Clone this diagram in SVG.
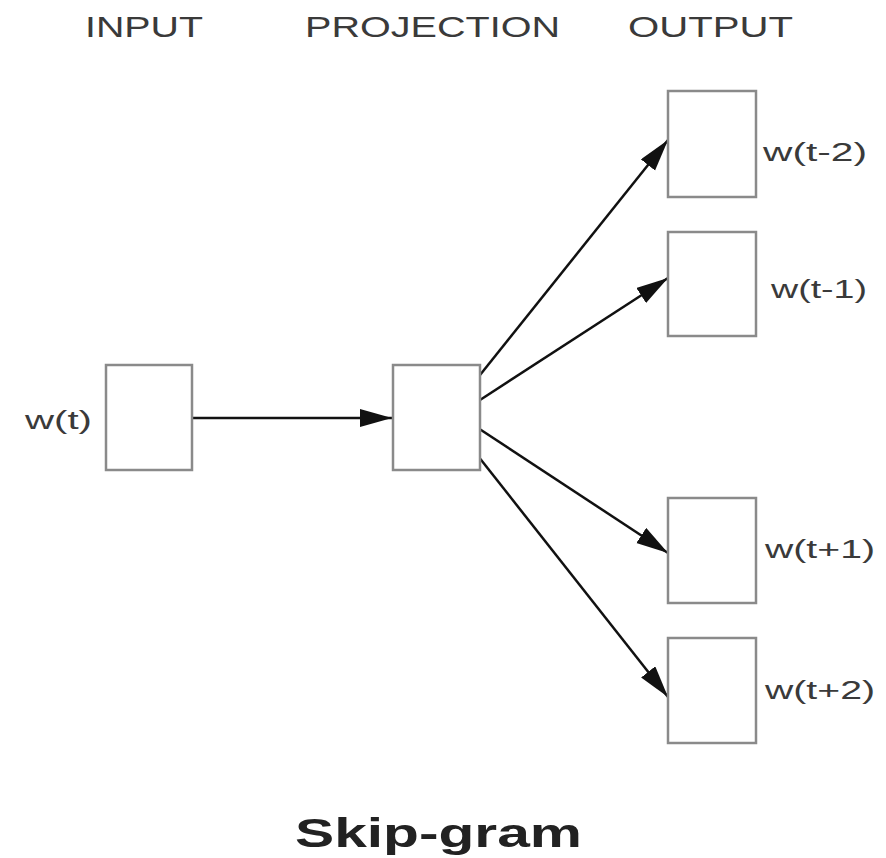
<svg xmlns="http://www.w3.org/2000/svg" width="886" height="858" viewBox="0 0 886 858">
  <style>
    .box { fill: #ffffff; stroke: #8a8a8a; stroke-width: 2.5; }
    .head { font-family: "Liberation Sans", Arial, sans-serif; font-size: 29px; fill: #3a3a3a; }
    .lbl { font-family: "Liberation Sans", Arial, sans-serif; font-size: 26px; fill: #3a3a3a; }
    .title { font-family: "Liberation Sans", Arial, sans-serif; font-size: 41px; font-weight: bold; fill: #222222; }
    .edge { stroke: #111111; stroke-width: 2.5; fill: none; marker-end: url(#arrow); }
  </style>
  <defs>
    <marker id="arrow" markerUnits="userSpaceOnUse" markerWidth="34" markerHeight="20" refX="32" refY="9" orient="auto">
      <path d="M0,0 L32,9 L0,18 Z" fill="#111111"/>
    </marker>
  </defs>
  <rect width="886" height="858" fill="#ffffff"/>

  <!-- column headings -->
  <text class="head" x="85" y="37" textLength="118" lengthAdjust="spacingAndGlyphs">INPUT</text>
  <text class="head" x="305" y="37" textLength="255" lengthAdjust="spacingAndGlyphs">PROJECTION</text>
  <text class="head" x="628" y="37" textLength="165" lengthAdjust="spacingAndGlyphs">OUTPUT</text>

  <!-- connectors -->
  <g id="connectors">
    <line class="edge" x1="190" y1="418" x2="392" y2="418"/>
    <line class="edge" x1="480" y1="375" x2="668" y2="140"/>
    <line class="edge" x1="480" y1="400" x2="668" y2="278"/>
    <line class="edge" x1="478" y1="428" x2="668" y2="553"/>
    <line class="edge" x1="478" y1="456" x2="668" y2="697"/>
  </g>

  <!-- input word -->
  <g id="input">
    <rect class="box" x="106" y="365" width="86" height="105"/>
    <text class="lbl" x="25" y="429" textLength="67" lengthAdjust="spacingAndGlyphs">w(t)</text>
  </g>

  <!-- projection layer -->
  <g id="projection">
    <rect class="box" x="393" y="365" width="87" height="105"/>
  </g>

  <!-- context word outputs -->
  <g id="out-tm2">
    <rect class="box" x="668" y="91" width="88" height="106"/>
    <text class="lbl" x="763" y="161" textLength="104" lengthAdjust="spacingAndGlyphs">w(t-2)</text>
  </g>
  <g id="out-tm1">
    <rect class="box" x="668" y="232" width="88" height="104"/>
    <text class="lbl" x="771" y="298" textLength="96" lengthAdjust="spacingAndGlyphs">w(t-1)</text>
  </g>
  <g id="out-tp1">
    <rect class="box" x="668" y="498" width="88" height="105"/>
    <text class="lbl" x="765" y="558" textLength="110" lengthAdjust="spacingAndGlyphs">w(t+1)</text>
  </g>
  <g id="out-tp2">
    <rect class="box" x="668" y="638" width="88" height="105"/>
    <text class="lbl" x="765" y="699" textLength="110" lengthAdjust="spacingAndGlyphs">w(t+2)</text>
  </g>

  <!-- caption -->
  <text class="title" x="295" y="847" textLength="287" lengthAdjust="spacingAndGlyphs">Skip-gram</text>
</svg>
